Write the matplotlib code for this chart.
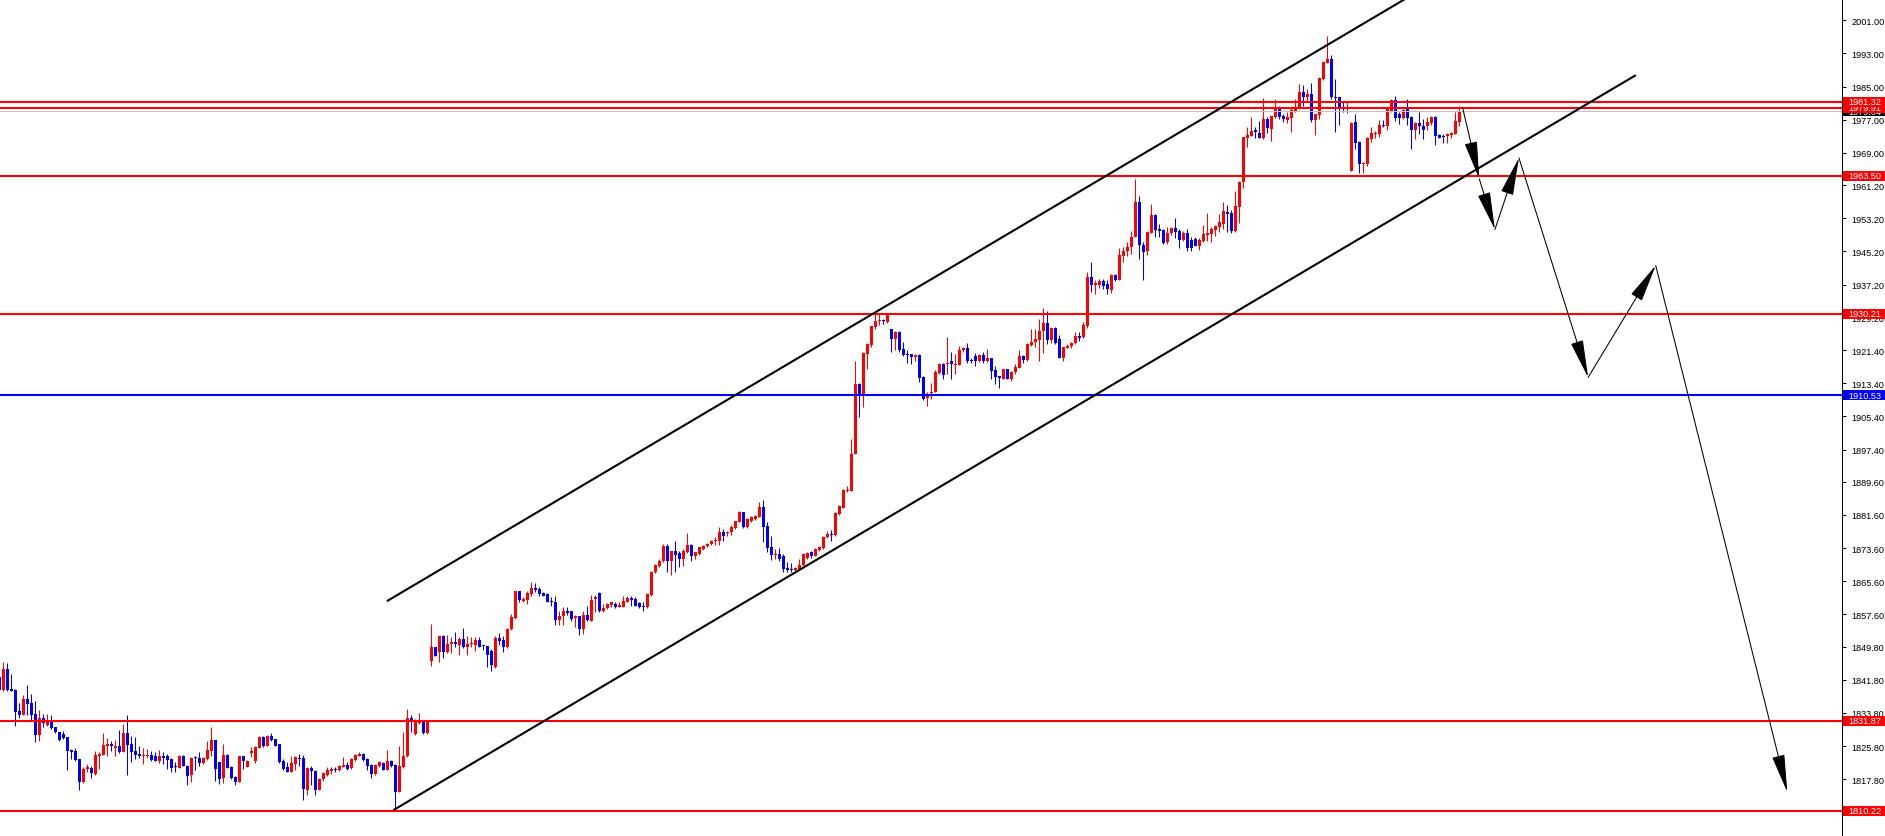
import numpy as np
import matplotlib
matplotlib.use("Agg")
import matplotlib.pyplot as plt
from matplotlib.patches import Rectangle, FancyArrowPatch
from matplotlib.transforms import blended_transform_factory

# candles (first bar is index -1, partly cut by the left edge)
first_bar = -1
opens = [
    1842.6, 1839.4, 1844.4, 1839.6, 1839.4, 1834.4, 1833.3, 1837.2, 1836.2, 1833.6,
    1828.5, 1832.6, 1830.9, 1831.6, 1830.3, 1829.3, 1828.7, 1828.0, 1824.9, 1824.6,
    1822.7, 1817.2, 1820.4, 1820.6, 1819.1, 1823.5, 1823.7, 1825.9, 1826.3, 1825.4,
    1825.8, 1824.5, 1829.0, 1826.2, 1824.6, 1823.8, 1823.3, 1823.5, 1823.7, 1823.3,
    1822.3, 1823.3, 1823.3, 1822.7, 1820.8, 1820.6, 1823.5, 1821.1, 1818.8, 1823.1,
    1823.0, 1821.8, 1822.7, 1824.7, 1827.4, 1821.9, 1818.0, 1823.7, 1820.8, 1818.4,
    1817.2, 1823.3, 1820.8, 1824.2, 1822.3, 1825.4, 1828.1, 1825.9, 1828.2, 1827.5,
    1826.3, 1822.2, 1820.7, 1819.6, 1821.5, 1822.9, 1822.9, 1815.3, 1820.5, 1819.8,
    1815.3, 1817.9, 1818.8, 1819.8, 1820.3, 1820.1, 1820.8, 1821.3, 1820.5, 1822.5,
    1823.5, 1823.9, 1822.7, 1821.3, 1819.1, 1821.1, 1821.7, 1820.1, 1822.3, 1821.3,
    1814.8, 1820.7, 1823.3, 1832.5, 1828.7, 1831.4, 1831.7, 1829.0, 1846.4, 1849.8,
    1848.6, 1852.3, 1848.6, 1850.4, 1851.0, 1850.2, 1851.7, 1849.8, 1850.5, 1850.3,
    1851.3, 1850.1, 1850.0, 1848.8, 1844.8, 1851.8, 1851.4, 1849.8, 1854.1, 1856.8,
    1863.2, 1860.9, 1861.1, 1862.5, 1864.0, 1863.7, 1862.8, 1862.5, 1860.8, 1860.5,
    1856.3, 1857.1, 1858.4, 1858.3, 1856.7, 1857.1, 1854.1, 1857.5, 1856.1, 1861.2,
    1862.7, 1858.3, 1859.2, 1859.9, 1860.1, 1859.5, 1859.5, 1860.7, 1861.6, 1861.3,
    1860.4, 1859.7, 1859.3, 1862.3, 1867.8, 1869.2, 1870.4, 1874.0, 1870.6, 1872.8,
    1872.4, 1871.0, 1872.6, 1874.4, 1871.6, 1872.2, 1873.4, 1874.0, 1874.6, 1875.2,
    1875.2, 1877.4, 1877.3, 1877.4, 1878.4, 1880.0, 1882.2, 1878.8, 1880.2, 1880.6,
    1881.2, 1883.6, 1879.0, 1873.9, 1872.0, 1872.2, 1871.6, 1868.7, 1868.4, 1868.2,
    1868.6, 1869.5, 1871.2, 1872.6, 1871.8, 1873.2, 1873.6, 1876.2, 1877.0, 1876.8,
    1881.8, 1883.4, 1887.4, 1887.3, 1896.2, 1913.2, 1910.4, 1920.5, 1922.6, 1927.0,
    1928.3, 1928.7, 1928.1, 1926.5, 1924.1, 1925.8, 1921.7, 1920.4, 1920.4, 1919.8,
    1920.2, 1914.8, 1909.8, 1911.0, 1911.2, 1915.9, 1918.0, 1918.0, 1918.8, 1917.9,
    1917.9, 1921.3, 1921.9, 1919.1, 1920.0, 1918.8, 1920.3, 1918.7, 1919.5, 1916.6,
    1915.1, 1914.4, 1916.8, 1914.4, 1916.0, 1917.1, 1920.0, 1919.0, 1922.7, 1923.3,
    1923.9, 1925.9, 1927.9, 1923.9, 1926.8, 1924.1, 1919.5, 1921.9, 1922.3, 1923.1,
    1924.7, 1924.5, 1927.3, 1939.0, 1937.2, 1937.1, 1938.0, 1937.3, 1936.0, 1939.5,
    1938.2, 1944.2, 1945.2, 1946.3, 1948.8, 1957.1, 1946.8, 1945.2, 1949.7, 1954.0,
    1950.6, 1950.4, 1947.6, 1949.6, 1950.8, 1950.1, 1948.0, 1949.7, 1947.9, 1948.2,
    1946.6, 1947.7, 1949.2, 1949.4, 1950.5, 1951.2, 1951.9, 1954.8, 1954.5, 1950.1,
    1956.0, 1961.9, 1972.7, 1973.0, 1974.5, 1973.9, 1972.5, 1977.2, 1974.8, 1977.6,
    1979.7, 1977.8, 1976.9, 1977.4, 1979.2, 1980.0, 1983.8, 1982.4, 1983.2, 1977.0,
    1978.2, 1986.8, 1990.7, 1991.7, 1982.6, 1982.4, 1980.0, 1979.6, 1964.7, 1976.4,
    1971.7, 1966.2, 1966.3, 1972.3, 1973.6, 1973.6, 1975.7, 1975.6, 1979.2, 1981.8,
    1978.4, 1977.3, 1979.6, 1977.7, 1974.6, 1976.2, 1975.4, 1975.4, 1976.1, 1977.7,
    1973.4, 1973.1, 1973.0, 1973.3, 1973.6, 1976.5,
]
closes = [
    1839.4, 1844.4, 1839.4, 1839.2, 1834.0, 1833.2, 1837.2, 1836.0, 1833.4, 1828.6,
    1832.6, 1831.3, 1831.7, 1830.1, 1829.1, 1827.4, 1827.8, 1824.7, 1824.5, 1822.5,
    1817.2, 1820.4, 1820.6, 1819.2, 1823.7, 1823.9, 1826.1, 1826.3, 1825.8, 1825.9,
    1824.3, 1829.0, 1826.1, 1824.5, 1823.7, 1823.3, 1823.7, 1823.7, 1822.5, 1822.3,
    1823.3, 1823.0, 1822.5, 1820.6, 1820.7, 1823.5, 1821.1, 1818.7, 1822.9, 1822.9,
    1821.8, 1822.9, 1824.9, 1827.4, 1820.3, 1817.9, 1823.7, 1820.5, 1818.0, 1817.2,
    1823.3, 1822.1, 1822.3, 1824.6, 1825.7, 1828.0, 1825.8, 1828.2, 1827.2, 1825.9,
    1821.9, 1820.4, 1819.6, 1821.7, 1823.1, 1822.7, 1815.5, 1820.5, 1819.7, 1815.3,
    1817.9, 1819.2, 1820.0, 1820.3, 1820.0, 1821.1, 1821.3, 1820.3, 1822.7, 1823.7,
    1824.0, 1822.5, 1821.1, 1819.1, 1821.3, 1821.9, 1820.1, 1822.3, 1821.1, 1814.8,
    1821.1, 1823.3, 1832.6, 1831.6, 1832.2, 1831.8, 1829.0, 1831.6, 1849.8, 1847.6,
    1852.3, 1848.6, 1850.5, 1851.0, 1850.4, 1851.7, 1849.7, 1850.5, 1850.7, 1851.3,
    1849.8, 1849.9, 1847.9, 1845.4, 1851.9, 1851.2, 1849.8, 1854.1, 1856.9, 1863.3,
    1861.1, 1861.3, 1862.8, 1864.0, 1863.6, 1862.5, 1862.1, 1860.7, 1860.7, 1856.3,
    1857.3, 1858.4, 1858.0, 1856.5, 1857.1, 1854.1, 1857.5, 1856.3, 1861.1, 1861.9,
    1858.3, 1859.2, 1860.1, 1860.5, 1859.5, 1859.7, 1860.9, 1861.6, 1861.1, 1859.7,
    1859.5, 1859.3, 1862.5, 1867.8, 1869.5, 1870.6, 1874.0, 1870.4, 1872.8, 1871.9,
    1871.0, 1873.0, 1874.4, 1871.6, 1872.6, 1873.8, 1874.2, 1874.6, 1875.4, 1875.4,
    1877.6, 1876.6, 1877.6, 1878.6, 1880.1, 1882.2, 1878.6, 1880.6, 1881.0, 1881.4,
    1883.6, 1878.6, 1873.6, 1872.0, 1872.2, 1871.0, 1868.6, 1868.2, 1868.2, 1868.7,
    1869.5, 1872.2, 1872.4, 1871.8, 1873.4, 1873.8, 1876.4, 1877.0, 1876.8, 1882.1,
    1883.8, 1887.7, 1887.6, 1896.3, 1913.2, 1910.4, 1920.7, 1922.9, 1927.1, 1928.5,
    1928.7, 1928.3, 1930.1, 1924.1, 1925.8, 1921.5, 1920.2, 1920.3, 1919.8, 1920.3,
    1914.6, 1909.6, 1910.6, 1911.4, 1916.2, 1918.0, 1915.5, 1918.4, 1918.0, 1918.0,
    1921.4, 1921.9, 1918.8, 1918.8, 1918.8, 1920.3, 1918.7, 1919.5, 1916.4, 1915.0,
    1914.6, 1916.8, 1914.4, 1916.2, 1917.2, 1920.0, 1919.0, 1922.9, 1923.4, 1924.1,
    1926.1, 1927.9, 1923.9, 1926.8, 1923.0, 1919.5, 1922.1, 1922.5, 1923.1, 1924.7,
    1924.4, 1927.4, 1939.0, 1937.2, 1937.6, 1938.0, 1936.8, 1936.1, 1939.5, 1938.2,
    1944.4, 1945.2, 1946.3, 1948.8, 1957.1, 1946.8, 1945.0, 1949.8, 1954.0, 1950.4,
    1950.2, 1947.2, 1949.7, 1950.8, 1949.8, 1948.0, 1949.7, 1946.0, 1946.1, 1946.6,
    1948.0, 1949.3, 1949.7, 1950.6, 1951.3, 1952.4, 1955.0, 1954.2, 1950.1, 1956.2,
    1962.0, 1972.8, 1973.2, 1974.3, 1974.1, 1972.5, 1977.2, 1974.9, 1977.8, 1979.7,
    1977.6, 1977.2, 1977.7, 1979.4, 1980.0, 1983.8, 1982.6, 1983.2, 1977.0, 1978.4,
    1987.0, 1991.0, 1991.7, 1982.4, 1982.2, 1979.7, 1979.7, 1980.0, 1976.2, 1971.5,
    1966.2, 1966.6, 1972.6, 1973.8, 1973.8, 1975.7, 1975.4, 1979.6, 1981.8, 1977.4,
    1977.4, 1979.4, 1977.3, 1974.6, 1976.2, 1975.4, 1974.4, 1976.5, 1977.7, 1973.1,
    1972.7, 1972.9, 1973.6, 1973.8, 1976.8, 1979.0,
]
highs = [
    1843.2, 1846.2, 1845.9, 1843.2, 1839.6, 1836.2, 1838.1, 1840.6, 1838.4, 1836.7,
    1834.6, 1833.6, 1833.6, 1833.3, 1830.3, 1829.3, 1829.5, 1828.0, 1825.1, 1825.3,
    1822.7, 1820.7, 1821.5, 1821.1, 1824.7, 1824.5, 1828.9, 1827.8, 1827.1, 1827.3,
    1829.8, 1831.1, 1833.2, 1828.3, 1827.9, 1825.8, 1825.3, 1825.1, 1824.7, 1824.3,
    1824.9, 1824.5, 1823.9, 1823.0, 1821.9, 1823.7, 1823.7, 1821.2, 1823.1, 1823.5,
    1824.3, 1823.1, 1827.1, 1830.5, 1827.4, 1821.9, 1826.3, 1823.9, 1820.9, 1818.5,
    1823.5, 1823.5, 1822.5, 1825.5, 1825.8, 1828.2, 1828.3, 1828.6, 1829.0, 1827.5,
    1826.3, 1822.7, 1821.9, 1823.3, 1823.3, 1823.8, 1823.7, 1820.7, 1821.1, 1820.0,
    1818.1, 1819.5, 1820.7, 1820.7, 1820.7, 1821.3, 1823.1, 1821.9, 1822.9, 1823.9,
    1824.3, 1824.1, 1822.9, 1821.5, 1821.5, 1822.3, 1821.9, 1824.9, 1822.5, 1821.5,
    1825.9, 1829.1, 1834.8, 1833.3, 1832.4, 1833.7, 1832.0, 1831.7, 1855.3, 1849.8,
    1852.5, 1852.6, 1852.6, 1852.1, 1853.3, 1852.1, 1854.3, 1852.5, 1852.1, 1852.2,
    1852.1, 1850.3, 1850.0, 1849.3, 1852.5, 1853.1, 1852.5, 1854.3, 1857.7, 1863.3,
    1863.3, 1861.9, 1863.3, 1865.3, 1865.1, 1864.3, 1862.9, 1862.7, 1861.7, 1862.1,
    1858.5, 1859.3, 1859.5, 1858.5, 1857.5, 1857.3, 1858.5, 1859.7, 1862.3, 1862.3,
    1862.9, 1860.1, 1860.4, 1860.7, 1860.5, 1860.5, 1862.1, 1862.0, 1862.1, 1861.7,
    1860.7, 1860.7, 1862.8, 1868.0, 1869.8, 1871.0, 1874.6, 1874.6, 1873.0, 1875.2,
    1873.0, 1873.4, 1877.3, 1874.6, 1872.7, 1873.9, 1874.4, 1874.8, 1875.6, 1876.2,
    1878.8, 1878.1, 1877.8, 1879.2, 1880.2, 1882.5, 1882.4, 1880.8, 1881.4, 1881.7,
    1884.7, 1885.1, 1879.8, 1876.6, 1873.4, 1873.6, 1872.2, 1870.2, 1869.9, 1869.1,
    1871.0, 1872.4, 1872.6, 1873.0, 1873.6, 1874.0, 1876.6, 1877.8, 1878.0, 1882.3,
    1884.0, 1887.9, 1888.7, 1899.9, 1918.8, 1913.4, 1920.9, 1923.0, 1927.3, 1930.1,
    1930.4, 1928.9, 1930.4, 1926.6, 1926.1, 1926.1, 1923.3, 1921.3, 1920.5, 1920.5,
    1920.4, 1915.1, 1911.2, 1913.4, 1916.6, 1918.2, 1918.3, 1924.5, 1921.0, 1920.5,
    1922.5, 1922.1, 1923.0, 1919.6, 1920.8, 1920.4, 1920.9, 1921.6, 1919.6, 1917.5,
    1915.2, 1916.8, 1916.8, 1916.4, 1918.0, 1921.4, 1920.3, 1923.0, 1926.5, 1926.5,
    1928.9, 1931.6, 1930.9, 1926.9, 1926.9, 1925.1, 1922.2, 1922.9, 1923.3, 1925.7,
    1925.7, 1928.1, 1940.3, 1942.6, 1938.2, 1938.6, 1938.6, 1938.4, 1939.8, 1939.8,
    1946.0, 1946.2, 1947.4, 1950.2, 1962.7, 1958.7, 1947.4, 1950.2, 1956.7, 1954.2,
    1951.8, 1950.6, 1951.0, 1951.0, 1953.3, 1950.6, 1950.2, 1950.6, 1948.6, 1948.6,
    1948.4, 1951.6, 1954.5, 1951.0, 1951.6, 1954.2, 1957.1, 1956.4, 1955.3, 1959.9,
    1962.2, 1972.9, 1975.2, 1977.7, 1975.3, 1976.6, 1982.2, 1977.6, 1978.0, 1982.0,
    1980.4, 1978.4, 1978.8, 1980.0, 1982.0, 1985.6, 1985.4, 1984.4, 1985.9, 1978.5,
    1987.2, 1991.2, 1997.3, 1992.6, 1986.8, 1982.6, 1981.2, 1981.2, 1976.4, 1978.4,
    1971.9, 1966.7, 1972.8, 1975.2, 1974.3, 1977.0, 1977.0, 1979.7, 1982.0, 1982.8,
    1978.9, 1979.6, 1982.0, 1977.8, 1976.4, 1978.8, 1977.2, 1977.6, 1978.0, 1978.0,
    1973.5, 1973.5, 1973.8, 1974.0, 1978.8, 1980.2,
]
lows = [
    1839.4, 1839.2, 1839.2, 1839.2, 1830.7, 1832.5, 1833.2, 1833.2, 1832.0, 1826.9,
    1827.1, 1830.3, 1830.6, 1829.9, 1829.0, 1827.1, 1827.5, 1820.1, 1822.7, 1822.3,
    1815.1, 1816.9, 1819.5, 1818.0, 1818.9, 1820.3, 1823.7, 1823.5, 1824.7, 1823.3,
    1824.2, 1824.5, 1818.8, 1821.9, 1822.7, 1822.9, 1821.5, 1822.9, 1822.3, 1822.1,
    1821.7, 1821.5, 1820.4, 1819.6, 1819.5, 1820.6, 1820.9, 1816.5, 1817.2, 1820.0,
    1820.9, 1821.6, 1822.5, 1823.5, 1817.5, 1816.7, 1816.9, 1820.5, 1817.9, 1816.3,
    1817.1, 1820.3, 1820.8, 1823.1, 1821.7, 1825.3, 1825.5, 1825.8, 1827.1, 1825.8,
    1821.7, 1820.0, 1819.5, 1819.5, 1820.0, 1821.1, 1812.9, 1814.0, 1816.3, 1814.0,
    1815.1, 1817.5, 1818.5, 1819.1, 1819.5, 1819.9, 1820.7, 1820.1, 1820.3, 1822.3,
    1823.3, 1822.3, 1820.1, 1818.1, 1818.8, 1820.7, 1820.0, 1820.0, 1820.8, 1810.5,
    1814.7, 1820.5, 1823.1, 1829.1, 1828.5, 1831.2, 1828.7, 1828.7, 1845.2, 1847.5,
    1846.0, 1847.0, 1848.4, 1848.4, 1849.7, 1847.9, 1849.5, 1847.9, 1849.7, 1848.7,
    1849.7, 1849.1, 1844.8, 1844.0, 1844.6, 1850.1, 1848.5, 1849.6, 1853.9, 1856.5,
    1860.7, 1860.5, 1860.1, 1862.1, 1863.0, 1862.1, 1862.0, 1860.5, 1859.6, 1855.1,
    1855.1, 1855.1, 1857.5, 1856.1, 1854.5, 1852.7, 1852.9, 1856.1, 1855.9, 1858.1,
    1858.1, 1858.1, 1858.9, 1859.3, 1859.1, 1859.4, 1859.3, 1860.5, 1859.6, 1859.6,
    1859.1, 1858.3, 1859.1, 1862.1, 1867.6, 1869.1, 1870.2, 1867.8, 1867.2, 1867.8,
    1869.0, 1869.4, 1872.4, 1870.6, 1871.0, 1872.0, 1873.1, 1873.8, 1874.4, 1874.4,
    1874.4, 1875.4, 1876.6, 1876.8, 1878.1, 1879.8, 1878.5, 1878.4, 1880.0, 1880.5,
    1881.0, 1875.0, 1872.7, 1870.8, 1871.0, 1870.6, 1867.8, 1867.8, 1867.9, 1868.0,
    1868.4, 1869.3, 1870.9, 1871.1, 1871.6, 1873.0, 1873.4, 1876.0, 1875.4, 1876.6,
    1881.6, 1883.2, 1887.1, 1887.3, 1896.2, 1905.3, 1907.7, 1916.8, 1922.2, 1926.5,
    1927.4, 1927.7, 1927.9, 1921.0, 1921.3, 1921.0, 1920.0, 1918.3, 1918.0, 1918.8,
    1913.8, 1909.4, 1908.0, 1909.6, 1911.2, 1915.6, 1914.4, 1915.6, 1914.3, 1915.6,
    1917.8, 1921.0, 1918.4, 1918.3, 1917.6, 1918.6, 1918.4, 1918.6, 1914.3, 1913.2,
    1912.2, 1914.3, 1914.3, 1914.0, 1915.6, 1917.0, 1918.4, 1918.8, 1922.5, 1922.1,
    1918.8, 1920.6, 1922.9, 1923.0, 1922.9, 1919.5, 1918.8, 1921.8, 1922.0, 1922.9,
    1923.7, 1924.2, 1926.7, 1935.3, 1934.9, 1936.5, 1936.1, 1934.9, 1935.2, 1938.0,
    1938.2, 1942.6, 1944.0, 1944.6, 1948.6, 1943.4, 1938.2, 1944.4, 1949.7, 1948.6,
    1948.6, 1947.0, 1947.0, 1949.2, 1948.4, 1946.0, 1947.8, 1945.2, 1945.2, 1946.4,
    1945.6, 1947.6, 1947.8, 1947.6, 1948.9, 1949.8, 1950.6, 1950.0, 1949.7, 1949.8,
    1952.1, 1960.5, 1970.5, 1973.0, 1972.6, 1972.5, 1972.3, 1973.8, 1971.9, 1977.4,
    1977.2, 1976.5, 1976.2, 1974.0, 1978.9, 1979.7, 1980.2, 1981.6, 1976.4, 1973.2,
    1977.2, 1986.7, 1990.6, 1982.0, 1974.1, 1975.7, 1978.8, 1978.6, 1964.7, 1969.9,
    1964.1, 1964.1, 1965.9, 1971.7, 1972.5, 1972.8, 1975.2, 1974.4, 1978.9, 1976.8,
    1976.0, 1977.2, 1975.7, 1969.9, 1972.3, 1973.6, 1972.3, 1974.4, 1975.7, 1970.9,
    1972.5, 1971.4, 1971.4, 1972.5, 1973.6, 1975.6,
]

# horizontal levels
red_levels = [1810.22, 1831.87, 1930.21, 1963.50, 1979.91, 1981.32]
blue_levels = [1910.53]
bid_price = 1979.04

# right-hand price scale
price_ticks = [2001.00, 1993.00, 1985.00, 1977.00, 1969.00, 1961.20, 1953.20, 1945.20,
               1937.20, 1929.20, 1921.40, 1913.40, 1905.40, 1897.40, 1889.60, 1881.60,
               1873.60, 1865.60, 1857.60, 1849.80, 1841.80, 1833.80, 1825.80, 1817.80]

# drawn objects: channel lines (bar index, price) and the forecast zigzag
channel_low_x, channel_low_y = [97.7, 407.9], [1810.46, 1987.63]
channel_high_x, channel_high_y = [96.1, 360.0], [1860.91, 2011.6]
path_x = [364.8, 369.0, 372.9, 378.9, 396.2, 413.1, 446.0]
path_y = [1980.0, 1962.7, 1950.5, 1967.8, 1914.8, 1941.8, 1814.7]

assert len(opens) == len(closes) == len(highs) == len(lows)

plt.rcParams['font.family'] = ['Liberation Sans', 'DejaVu Sans']

W, H = 1885, 837
plot_w = 1842
fig = plt.figure(figsize=(W / 100, H / 100), dpi=100)
ax = fig.add_axes([0, 0, plot_w / W, 1])
ax.set_xlim(-0.83, 459.67)
ax.set_ylim(1804.11, 2006.14)

o = np.array(opens)
c = np.array(closes)
h = np.maximum(np.array(highs), np.maximum(o, c))
l = np.minimum(np.array(lows), np.minimum(o, c))
x = np.arange(len(o)) + first_bar
up = c >= o
cols = np.where(up, '#FF0000', '#0000FF')

ax.vlines(x, l, h, colors=cols, lw=0.75, zorder=2)
body = np.maximum(np.abs(c - o), 0.25)
ax.bar(x, body, bottom=np.minimum(o, c), width=0.75, color=cols, lw=0, zorder=2)

# levels
for p in red_levels:
    ax.axhline(p, color='#FF0000', lw=1.5, zorder=3)
for p in blue_levels:
    ax.axhline(p, color='#0000FF', lw=1.5, zorder=3)
ax.axhline(bid_price, color='#C0C0C0', lw=0.75, zorder=2.5)

# channel
ax.plot(channel_low_x, channel_low_y, color='black', lw=1.5, zorder=4)
ax.plot(channel_high_x, channel_high_y, color='black', lw=1.5, zorder=4)

# zigzag forecast with arrowheads
for k in range(len(path_x) - 1):
    arr = FancyArrowPatch((path_x[k], path_y[k]), (path_x[k + 1], path_y[k + 1]),
                          arrowstyle='-|>,head_length=2.4,head_width=0.4',
                          mutation_scale=10, color='black', lw=0.75,
                          shrinkA=0, shrinkB=0, zorder=5)
    ax.add_patch(arr)

# axis styling
for s in ['left', 'top', 'bottom']:
    ax.spines[s].set_visible(False)
ax.spines['right'].set_color('black')
ax.spines['right'].set_linewidth(0.75)
ax.set_xticks([])
ax.yaxis.tick_right()
ax.set_yticks(price_ticks)
ax.set_yticklabels([f"{v:.2f}" for v in price_ticks])
ax.tick_params(axis='y', direction='out', length=3, width=0.75, pad=4,
               labelsize=6.6, colors='black')

# price label boxes on the scale
tr = blended_transform_factory(ax.transAxes, ax.transData)
box_h = 10 / (H / (2006.14 - 1804.11))
box_w = 42 / plot_w
x0 = 1 + 1 / plot_w

def price_box(p, fc, z):
    ax.add_patch(Rectangle((x0, p - box_h / 2), box_w, box_h, transform=tr,
                           facecolor=fc, edgecolor='none', clip_on=False, zorder=z))
    ax.text(x0 + 5 / plot_w, p, f"{p:.2f}", transform=tr, color='white',
            fontsize=6.6, va='center', ha='left', clip_on=False, zorder=z + 0.1)

price_box(bid_price, 'black', 9)
levels = [(p, '#FF0000') for p in red_levels] + [(p, '#0000FF') for p in blue_levels]
levels.sort()
for n, (p, fc) in enumerate(levels):
    price_box(p, fc, 10 + n)

fig.savefig('out.png', dpi=100)
